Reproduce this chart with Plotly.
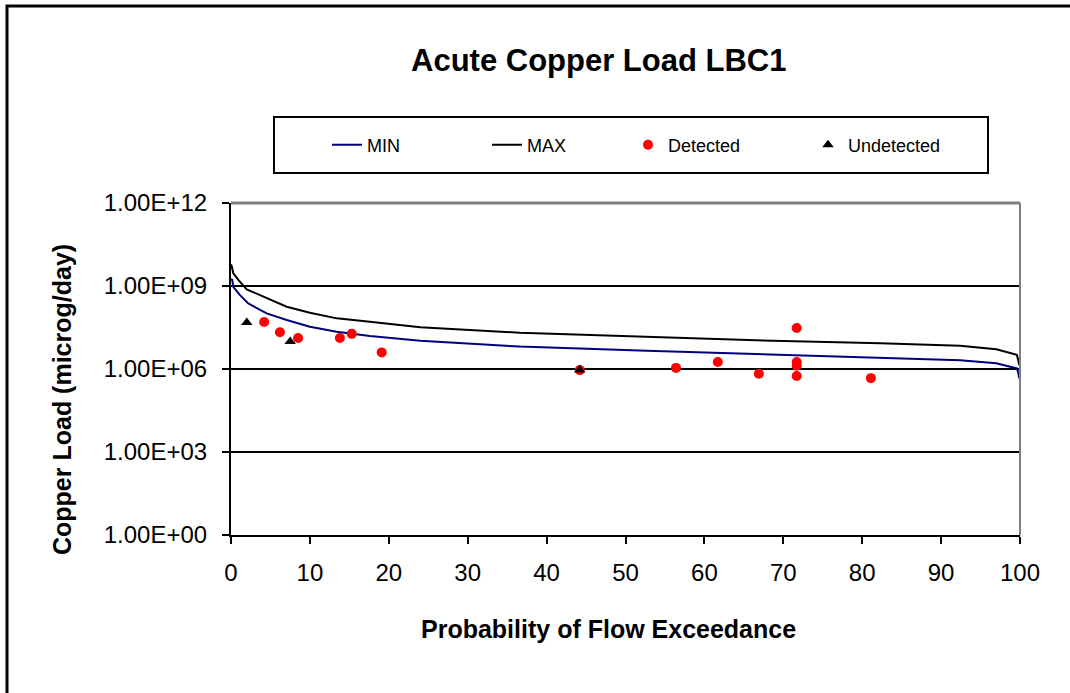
import plotly.graph_objects as go

# ---- data ----
min_x = [0.0, 0.16, 0.29, 1.14, 2.19, 4.52, 7.06, 10.0, 13.4, 17.6, 24.0, 36.6, 52.7, 68.7, 82.3, 92.4, 97.0, 99.6, 99.8, 99.9]
min_log = [9.25, 9.22, 8.97, 8.67, 8.37, 8.01, 7.77, 7.53, 7.35, 7.19, 7.02, 6.81, 6.66, 6.53, 6.41, 6.32, 6.21, 6.02, 5.85, 5.66]
max_x = [0.0, 0.09, 0.29, 0.93, 1.99, 4.09, 7.06, 10.0, 13.4, 17.6, 24.0, 36.6, 52.7, 68.7, 82.3, 92.4, 97.0, 99.6, 99.8, 99.9]
max_log = [9.78, 9.72, 9.46, 9.22, 8.88, 8.61, 8.25, 8.03, 7.83, 7.71, 7.51, 7.31, 7.17, 7.02, 6.93, 6.84, 6.71, 6.51, 6.30, 6.14]

det_x = [4.2, 6.2, 8.5, 13.8, 15.3, 19.1, 44.2, 56.4, 61.7, 66.9, 71.7, 71.7, 71.7, 71.7, 81.1]
det_log = [7.70, 7.33, 7.12, 7.12, 7.27, 6.60, 5.96, 6.04, 6.25, 5.83, 7.48, 6.25, 6.12, 5.75, 5.67]
und_x = [2.0, 7.5, 44.2]
und_log = [7.68, 6.99, 5.96]

y_tickvals = [0, 3, 6, 9, 12]
y_ticktext = ["1.00E+00", "1.00E+03", "1.00E+06", "1.00E+09", "1.00E+12"]
x_tickvals = [0, 10, 20, 30, 40, 50, 60, 70, 80, 90, 100]

def pw(v):
    return [10 ** a for a in v]

fig = go.Figure()
fig.add_trace(go.Scatter(x=min_x, y=pw(min_log), mode="lines", name="MIN",
                         line=dict(color="#000080", width=2), legend="legend", showlegend=True))
fig.add_trace(go.Scatter(x=max_x, y=pw(max_log), mode="lines", name="MAX",
                         line=dict(color="black", width=2), legend="legend2", showlegend=True))
fig.add_trace(go.Scatter(x=det_x, y=pw(det_log), mode="markers", name="Detected",
                         marker=dict(color="#FF0000", size=10, symbol="circle"), legend="legend3", showlegend=True))
fig.add_trace(go.Scatter(x=und_x, y=pw(und_log), mode="markers", name="Undetected",
                         marker=dict(color="black", size=10, symbol="triangle-up"), legend="legend4", showlegend=True))

W, H = 1070, 693
L, R, T, B = 231, 1020, 203, 535
def px(p):
    return (p - L) / (R - L)
def py(p):
    return (B - p) / (B - T)

FONT = "Liberation Sans, Arial, sans-serif"
legfont = dict(family=FONT, size=18, color="black")
def leg(xp):
    return dict(x=px(xp), y=py(145), xanchor="left", yanchor="middle", orientation="h",
                bgcolor="rgba(0,0,0,0)", borderwidth=0, font=legfont, visible=True)

fig.update_layout(
    width=W, height=H,
    margin=dict(l=L, r=W - R, t=T, b=H - B),
    paper_bgcolor="white", plot_bgcolor="white",
    showlegend=True,
    font=dict(family=FONT, color="black"),
    legend=leg(327), legend2=leg(487), legend3=leg(628), legend4=leg(808),
    xaxis=dict(range=[0, 100], tickvals=x_tickvals, showgrid=False, zeroline=False,
               showline=True, linecolor="black", linewidth=2,
               ticks="outside", ticklen=7, tickwidth=2, tickcolor="black",
               ticklabelstandoff=8, tickfont=dict(size=24)),
    yaxis=dict(type="log", range=[0, 12], tickvals=[10 ** v for v in y_tickvals], ticktext=y_ticktext,
               showgrid=True, gridcolor="black", gridwidth=2, zeroline=False,
               showline=True, linecolor="black", linewidth=2,
               ticks="outside", ticklen=7, tickwidth=2, tickcolor="black",
               ticklabelstandoff=10, tickfont=dict(size=24)),
    shapes=[
        dict(type="line", xref="paper", yref="paper", x0=0, x1=1, y0=1, y1=1,
             line=dict(color="#808080", width=3)),
        dict(type="line", xref="paper", yref="paper", x0=1, x1=1, y0=0, y1=1,
             line=dict(color="#808080", width=2)),
        dict(type="rect", xref="paper", yref="paper", x0=px(274), x1=px(988), y0=py(173), y1=py(117),
             line=dict(color="black", width=2)),
        dict(type="rect", xref="paper", yref="paper", x0=px(7), x1=px(1090), y0=py(710), y1=py(6),
             line=dict(color="black", width=3)),
    ],
    annotations=[
        dict(text="<b>Acute Copper Load LBC1</b>", xref="paper", yref="paper", x=px(598), y=py(60),
             showarrow=False, font=dict(size=31), xanchor="center", yanchor="middle"),
        dict(text="<b>Probability of Flow Exceedance</b>", xref="paper", yref="paper", x=px(608), y=py(629),
             showarrow=False, font=dict(size=25), xanchor="center", yanchor="middle"),
        dict(text="<b>Copper Load (microg/day)</b>", xref="paper", yref="paper", x=px(62), y=py(400),
             showarrow=False, font=dict(size=25), textangle=-90, xanchor="center", yanchor="middle"),
    ],
)

fig.write_html("out.html", config={"displayModeBar": False},
               post_script="document.body.style.margin='0';document.body.style.padding='0';")
